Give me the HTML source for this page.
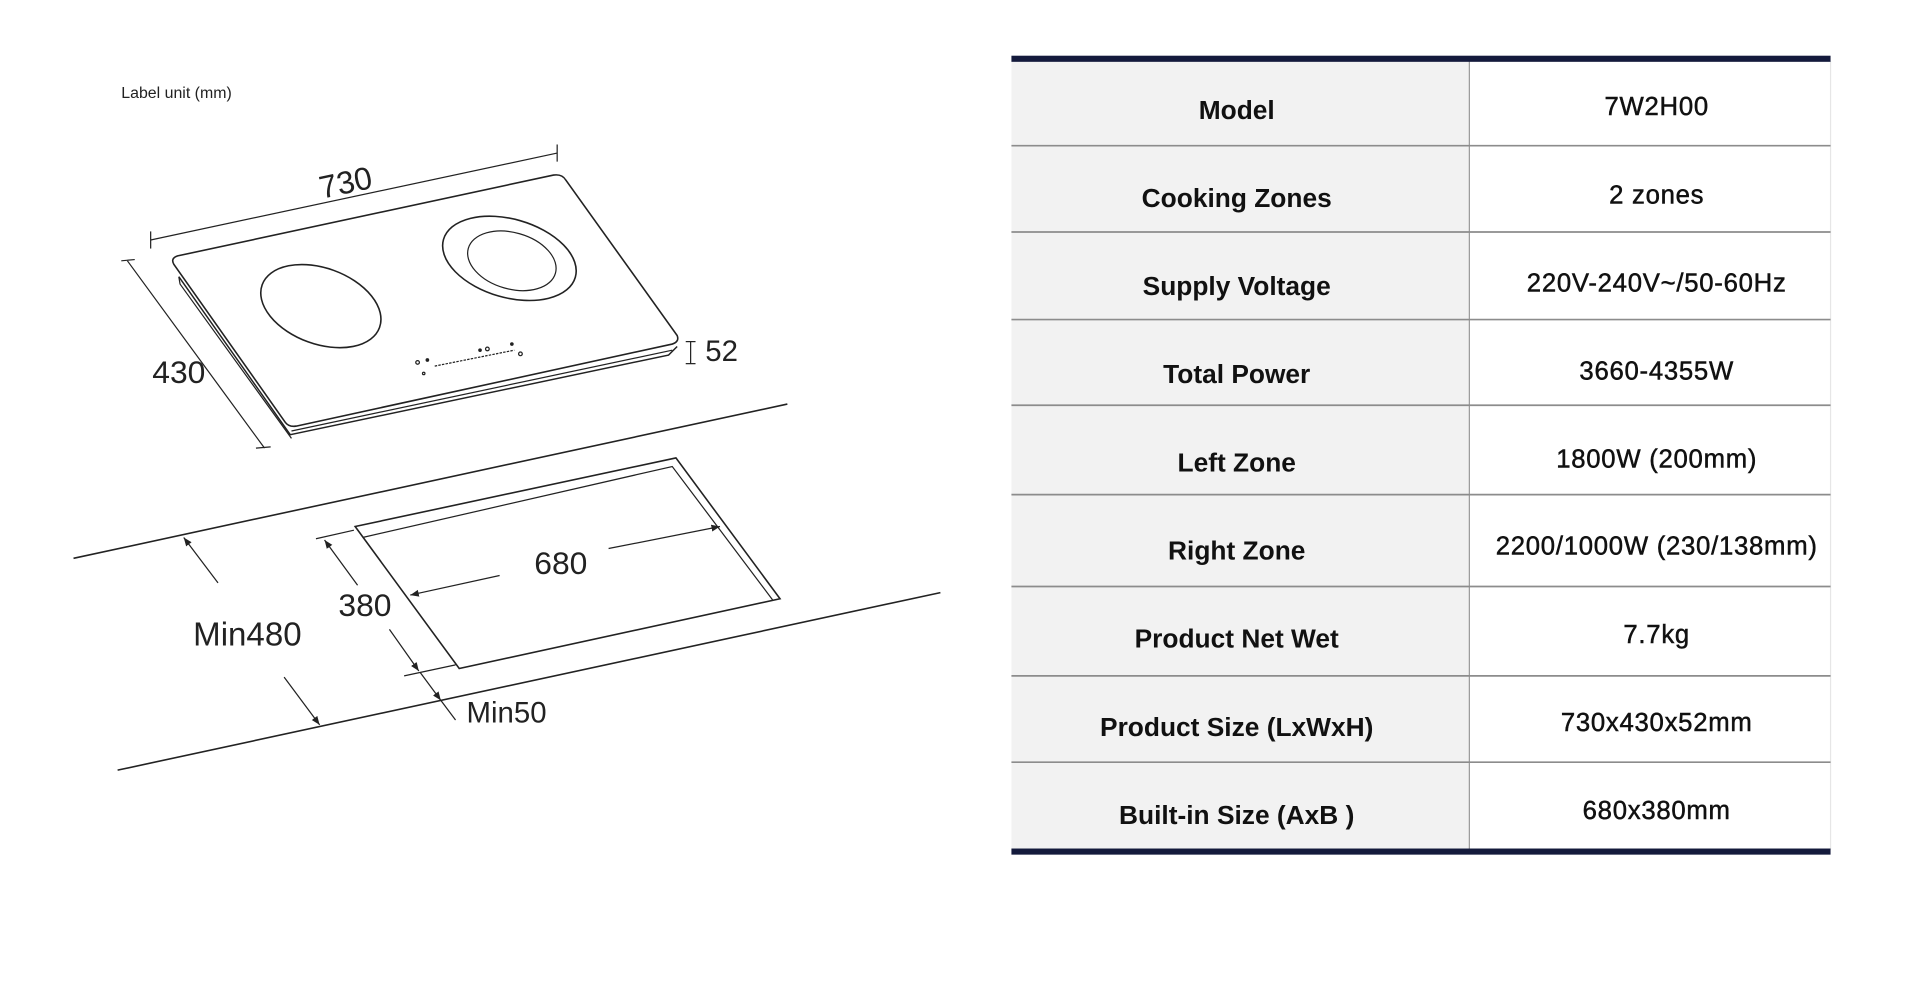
<!DOCTYPE html>
<html><head><meta charset="utf-8"><style>
html,body{margin:0;padding:0;background:#fff;}
svg{display:block;}
</style></head><body>
<svg width="1920" height="981" viewBox="0 0 1568 801.2" xmlns="http://www.w3.org/2000/svg" font-family="Liberation Sans, sans-serif">
<defs>
<marker id="ah" viewBox="0 0 10 10" refX="10" refY="5" markerWidth="7" markerHeight="7" orient="auto-start-reverse"><path d="M0,1 L10,5 L0,9 z" fill="#222"/></marker>
</defs>
<rect width="1568" height="802" fill="#fff"/>
<text x="99" y="80" font-size="13" fill="#222">Label unit (mm)</text>

<g stroke="#222" fill="none" stroke-width="1">
<line x1="123" y1="196" x2="455" y2="125"/>
<line x1="123" y1="189" x2="123" y2="203"/>
<line x1="455" y1="118" x2="455" y2="132"/>
<line x1="104" y1="213" x2="216" y2="366"/>
<line x1="99" y1="213" x2="110" y2="212"/>
<line x1="209" y1="366" x2="221" y2="365"/>
<path d="M146,226 L237,355 L546,290 L553,283" stroke-width="1.2"/>
<path d="M146,226 L147,232 L238,358" />
<line x1="238" y1="352" x2="549" y2="286"/>
<path d="M145,209 L452,143 Q459,142 462,147 L553,274 Q555,279 549,281 L242,348 Q236,349 233,345 L142,216 Q139,211 145,209 Z" stroke-width="1.3"/>
<ellipse cx="262" cy="250" rx="51" ry="31" transform="rotate(20 262 250)" stroke-width="1.3"/>
<ellipse cx="416" cy="211" rx="56" ry="32" transform="rotate(16 416 211)" stroke-width="1.3"/>
<ellipse cx="418" cy="213" rx="37" ry="23" transform="rotate(16 418 213)" stroke-width="1"/>
<line x1="355" y1="299" x2="420" y2="286" stroke-dasharray="2 1"/>
<circle cx="341" cy="296" r="1.5"/><circle cx="349" cy="294" r="1" fill="#222"/>
<circle cx="392" cy="286" r="1" fill="#222"/><circle cx="398" cy="285" r="1.5"/>
<circle cx="418" cy="281" r="1" fill="#222"/><circle cx="425" cy="289" r="1.5"/>
<circle cx="346" cy="305" r="1"/>
<line x1="564" y1="279" x2="564" y2="297"/>
<line x1="560" y1="279" x2="568" y2="279"/>
<line x1="560" y1="297" x2="568" y2="297"/>
<line x1="60" y1="456" x2="643" y2="330" stroke-width="1.3"/>
<line x1="96" y1="629" x2="768" y2="484" stroke-width="1.3"/>
<path d="M290,430 L552,374 L637,489 L375,546 Z" stroke-width="1.3"/>
<path d="M296,439 L549,381 L631,490" />
<line x1="408" y1="470" x2="335" y2="486" marker-end="url(#ah)"/>
<line x1="497" y1="448" x2="588" y2="430" marker-end="url(#ah)"/>
<line x1="258" y1="440" x2="289" y2="433"/>
<line x1="330" y1="552" x2="372" y2="543"/>
<line x1="292" y1="478" x2="265" y2="441" marker-end="url(#ah)"/>
<line x1="318" y1="514" x2="342" y2="548" marker-end="url(#ah)"/>
<line x1="178" y1="476" x2="150" y2="439" marker-end="url(#ah)"/>
<line x1="232" y1="553" x2="261" y2="592" marker-end="url(#ah)"/>
<line x1="343" y1="549" x2="360" y2="572" marker-end="url(#ah)"/>
<line x1="360" y1="572" x2="372" y2="588"/>
</g>

<g fill="#222" font-size="26">
<text x="282" y="158" text-anchor="middle" transform="rotate(-12 282 148)">730</text>
<text x="146" y="313" text-anchor="middle">430</text>
<text x="576" y="295" font-size="24">52</text>
<text x="458" y="469" text-anchor="middle">680</text>
<text x="298" y="503" text-anchor="middle">380</text>
<text x="202" y="527" text-anchor="middle" font-size="27">Min480</text>
<text x="381" y="590" font-size="24">Min50</text>
</g>

<rect x="826" y="50" width="374" height="644" fill="#f2f2f2"/>
<line x1="1495" y1="50" x2="1495" y2="694" stroke="#e6e6e6" stroke-width="1"/>
<line x1="1200" y1="50" x2="1200" y2="694" stroke="#9a9a9a" stroke-width="1"/>
<g stroke="#8c8c8c" stroke-width="1.4">
<line x1="826" y1="119" x2="1495" y2="119"/>
<line x1="826" y1="189.5" x2="1495" y2="189.5"/>
<line x1="826" y1="261" x2="1495" y2="261"/>
<line x1="826" y1="331" x2="1495" y2="331"/>
<line x1="826" y1="404" x2="1495" y2="404"/>
<line x1="826" y1="479" x2="1495" y2="479"/>
<line x1="826" y1="552" x2="1495" y2="552"/>
<line x1="826" y1="622.5" x2="1495" y2="622.5"/>
</g>
<rect x="826" y="45.5" width="669" height="5" fill="#141a3c"/>
<rect x="826" y="693" width="669" height="5" fill="#141a3c"/>

<g font-size="21.5" font-weight="bold" fill="#111" text-anchor="middle">
<text x="1010" y="97">Model</text>
<text x="1010" y="169">Cooking Zones</text>
<text x="1010" y="241">Supply Voltage</text>
<text x="1010" y="313">Total Power</text>
<text x="1010" y="385">Left Zone</text>
<text x="1010" y="457">Right Zone</text>
<text x="1010" y="529">Product Net Wet</text>
<text x="1010" y="601">Product Size (LxWxH)</text>
<text x="1010" y="673">Built-in Size (AxB )</text>
</g>
<g font-size="21" letter-spacing="0.6" fill="#111" stroke="#111" stroke-width="0.4" text-anchor="middle">
<text x="1353" y="94">7W2H00</text>
<text x="1353" y="166">2 zones</text>
<text x="1353" y="238">220V-240V~/50-60Hz</text>
<text x="1353" y="310">3660-4355W</text>
<text x="1353" y="382">1800W (200mm)</text>
<text x="1353" y="453">2200/1000W (230/138mm)</text>
<text x="1353" y="525">7.7kg</text>
<text x="1353" y="597">730x430x52mm</text>
<text x="1353" y="669">680x380mm</text>
</g>
</svg>
</body></html>
